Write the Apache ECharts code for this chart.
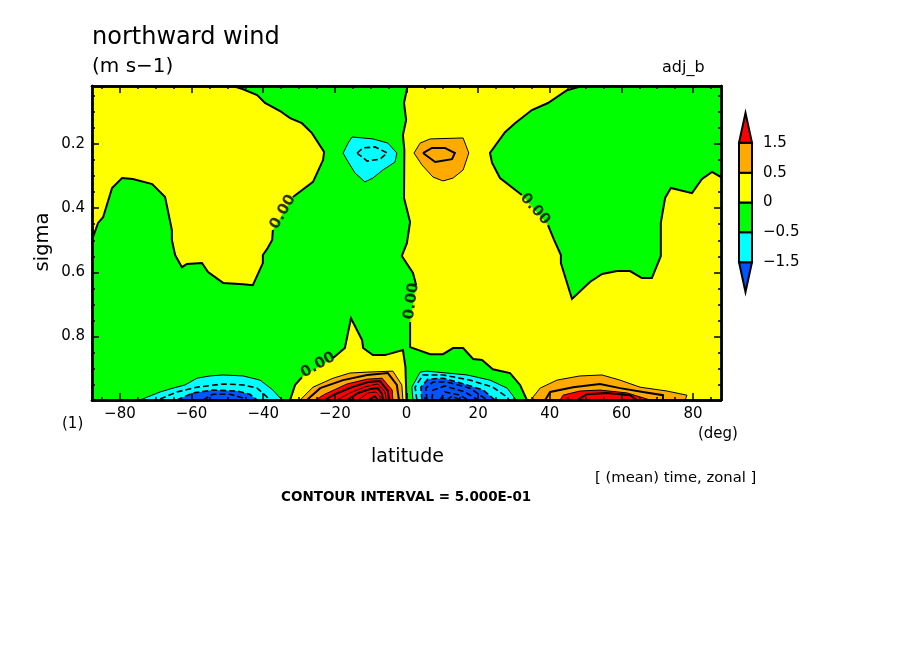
<!DOCTYPE html>
<html>
<head>
<meta charset="utf-8">
<title>northward wind</title>
<script src="https://cdn.jsdelivr.net/npm/echarts@6/dist/echarts.min.js"></script>
<style>
html,body{margin:0;padding:0;background:#fff}
#main{width:904px;height:654px}
</style>
</head>
<body>
<div id="main"></div>
<script>
// axis values
var latMin = -87.8, latMax = 87.8, sigmaMin = 0.019, sigmaMax = 0.998;
var latMajor = [-80, -60, -40, -20, 0, 20, 40, 60, 80];
var latMinor = [-85, -75, -70, -65, -55, -50, -45, -35, -30, -25, -15, -10, -5, 5, 10, 15, 25, 30, 35, 45, 50, 55, 65, 70, 75, 85];
var sigmaMajor = [0.2, 0.4, 0.6, 0.8];
var sigmaMinor = [0.05, 0.1, 0.15, 0.25, 0.3, 0.35, 0.45, 0.5, 0.55, 0.65, 0.7, 0.75, 0.85, 0.9, 0.95];

// colour bar
var barLevels = ['-1.5', '-0.5', '0', '0.5', '1.5'];
var barColors = ['#0055ff', '#00ffff', '#00ff00', '#ffff00', '#ffaa00', '#ff0000'];

// zero contour pieces, [latitude, sigma]
var zeroWestTop = [[-48.4,0.019],[-45.6,0.029],[-41.7,0.047],[-39.5,0.072],[-35.3,0.097],[-32.5,0.119],[-29.2,0.135],[-26.4,0.166],[-23.0,0.225],[-23.3,0.250],[-26.1,0.318],[-31.7,0.365]];
var zeroWestLow = [[-37.3,0.468],[-37.5,0.499],[-38.9,0.527],[-40.1,0.546],[-40.1,0.571],[-42.9,0.640],[-45.6,0.637],[-51.2,0.633],[-55.4,0.599],[-57.1,0.571],[-61.3,0.574],[-62.7,0.584],[-64.6,0.546],[-65.5,0.499],[-65.5,0.468],[-67.4,0.365],[-71.0,0.325],[-76.4,0.309],[-79.4,0.306],[-82.2,0.337],[-84.7,0.428],[-86.1,0.446],[-87.8,0.499]];
var zeroEquatorTop = [[0.3,0.019],[-0.7,0.072],[-0.1,0.125],[-1.0,0.172],[-0.6,0.219],[-0.7,0.368],[1.0,0.443],[0.1,0.509],[-1.3,0.549],[1.8,0.602],[2.7,0.640]];
var zeroEquatorLow = [[1.0,0.755],[1.0,0.833],[6.6,0.855],[10.2,0.855],[13.0,0.836],[15.8,0.836],[18.6,0.870],[21.1,0.873],[24.1,0.902],[28.9,0.914],[31.7,0.951],[33.6,0.998]];
var zeroEastTop = [[49.0,0.019],[44.8,0.032],[39.5,0.072],[35.0,0.094],[30.3,0.135],[27.5,0.163],[23.3,0.228],[23.9,0.259],[26.1,0.306],[32.2,0.359]];
var zeroEastLow = [[39.5,0.453],[41.2,0.499],[43.1,0.546],[43.1,0.571],[46.2,0.683],[51.2,0.630],[54.6,0.605],[58.8,0.596],[62.4,0.596],[65.7,0.618],[68.5,0.618],[71.0,0.549],[71.0,0.446],[72.2,0.368],[73.8,0.337],[79.7,0.353],[82.5,0.309],[85.3,0.287],[87.8,0.303]];
var zeroLobeWest = [[-32.5,0.998],[-31.1,0.951],[-29.2,0.927]];
var zeroLobeEast = [[-20.5,0.867],[-17.2,0.836],[-15.5,0.743],[-12.4,0.811],[-12.1,0.836],[-9.4,0.858],[-6.0,0.858],[-1.0,0.842],[-0.3,0.895],[0,0.998]];

// upper troposphere cells
var upperNeg05 = [[-15.2,0.178],[-9.4,0.184],[-5.2,0.197],[-2.7,0.228],[-3.2,0.256],[-6.6,0.281],[-9.4,0.306],[-11.6,0.318],[-14.4,0.290],[-16.6,0.250],[-17.7,0.228],[-16.3,0.197],[-15.2,0.178]];
var upperNeg1 = [[-13.8,0.228],[-12.1,0.212],[-8.8,0.209],[-5.4,0.228],[-7.4,0.247],[-11.0,0.253],[-13.8,0.228]];
var upperPos05 = [[3.8,0.197],[6.6,0.184],[15.8,0.181],[17.4,0.228],[15.8,0.281],[13.0,0.306],[10.2,0.315],[7.4,0.303],[4.3,0.265],[2.1,0.228],[3.8,0.197]];
var upperPos1 = [[4.6,0.228],[7.1,0.212],[10.7,0.212],[13.5,0.228],[12.7,0.247],[8.0,0.256],[4.6,0.228]];

// low level cell, 50S
var southNeg05 = [[-74.4,0.998],[-68.8,0.973],[-65.2,0.961],[-61.8,0.951],[-58.5,0.930],[-54.9,0.923],[-51.2,0.920],[-45.6,0.923],[-40.9,0.936],[-37.3,0.967],[-34.8,0.998]];
var southNeg1 = [[-68.8,0.995],[-64.1,0.973],[-58.5,0.958],[-51.2,0.948],[-45.6,0.951],[-41.7,0.961],[-38.9,0.989],[-38.6,0.998]];
var southNeg15 = [[-64.1,0.998],[-59.6,0.976],[-54.0,0.967],[-47.3,0.970],[-43.7,0.980],[-41.7,0.998]];
var southNeg2 = [[-56.8,0.998],[-54.0,0.980],[-49.2,0.980],[-45.6,0.992]];

// low level cell, 10S
var tropicSPos05 = [[-29.7,0.998],[-26.1,0.958],[-20.5,0.930],[-15.8,0.914],[-11.0,0.911],[-3.8,0.908],[-1.3,0.951],[-1.0,0.998]];
var tropicSPos1 = [[-27.8,0.998],[-24.1,0.961],[-17.7,0.936],[-11.0,0.920],[-5.2,0.914],[-2.7,0.951],[-2.1,0.998]];
var tropicSPos15 = [[-25.5,0.998],[-22.8,0.980],[-16.6,0.948],[-11.0,0.933],[-6.8,0.930],[-4.0,0.967],[-3.8,0.998]];
var tropicSPos2 = [[-22.8,0.998],[-20.0,0.980],[-15.2,0.958],[-10.7,0.942],[-7.4,0.939],[-5.2,0.970],[-4.9,0.998]];
var tropicSPos25 = [[-19.4,0.998],[-15.8,0.976],[-11.6,0.957],[-8.0,0.948],[-6.0,0.973],[-5.7,0.998]];
var tropicSPos3 = [[-16.6,0.998],[-13.5,0.976],[-10.2,0.964],[-8.0,0.961],[-6.8,0.980],[-6.6,0.998]];
var tropicSPos35 = [[-13.5,0.998],[-10.7,0.976],[-8.5,0.973],[-7.4,0.986],[-7.4,0.998]];
var tropicSPos4 = [[-10.7,0.998],[-8.8,0.986],[-8.0,0.998]];

// low level cell, 10N
var tropicNNeg05 = [[1.8,0.998],[1.5,0.958],[3.8,0.911],[5.7,0.908],[16.9,0.920],[23.3,0.936],[28.1,0.961],[30.6,0.998]];
var tropicNNeg1 = [[2.9,0.998],[2.4,0.958],[4.6,0.920],[10.2,0.920],[17.7,0.936],[24.1,0.958],[28.1,0.989],[28.6,0.998]];
var tropicNNeg15 = [[4.3,0.998],[4.0,0.958],[6.0,0.933],[10.2,0.930],[16.9,0.951],[21.4,0.967],[24.7,0.998]];
var tropicNNeg2 = [[5.7,0.998],[5.4,0.961],[7.4,0.942],[11.3,0.942],[17.7,0.961],[22.5,0.998]];
var tropicNNeg25 = [[7.1,0.998],[7.4,0.967],[10.7,0.954],[16.3,0.973],[20.0,0.998]];
var tropicNNeg3 = [[9.4,0.998],[10.7,0.973],[14.9,0.983],[17.2,0.998]];
var tropicNNeg35 = [[11.3,0.998],[12.7,0.986],[14.9,0.998]];

// low level cell, 55N
var northPos05 = [[35.3,0.998],[35.3,0.989],[37.3,0.961],[42.0,0.936],[48.4,0.923],[54.6,0.920],[59.6,0.936],[65.2,0.958],[72.7,0.970],[78.3,0.983],[77.8,0.998]];
var northPos1 = [[38.7,0.998],[40.1,0.973],[46.5,0.958],[54.0,0.948],[59.6,0.961],[66.0,0.973],[71.6,0.983],[71.6,0.998]];
var northPos15 = [[42.9,0.998],[43.7,0.983],[48.4,0.970],[54.0,0.967],[61.6,0.976],[68.0,0.998]];
var northPos2 = [[47.6,0.998],[50.4,0.980],[56.0,0.976],[62.4,0.983],[64.3,0.998]];

// "0.00" contour labels
var zeroLabelPoints = [[-34.5,0.412],[35.9,0.403],[1.4,0.690],[-24.7,0.889]];
var zeroLabelAngles = [60, -48, 82, 30];

var GREEN = '#00ff00', YELLOW = '#ffff00', ORANGE = '#ffaa00', RED = '#ff0000', CYAN = '#00ffff', BLUE = '#0055ff';

var fills = [
    {pts: [[latMin, sigmaMin]].concat(zeroWestTop, zeroWestLow), color: YELLOW},
    {pts: zeroEquatorTop.concat(zeroEquatorLow, [[latMax, sigmaMax]], zeroEastLow.slice().reverse(), zeroEastTop.slice().reverse()), color: YELLOW},
    {pts: zeroLobeWest.concat(zeroLobeEast), color: YELLOW},
    {pts: upperNeg05, color: CYAN},
    {pts: upperPos05, color: ORANGE},
    {pts: southNeg05, color: CYAN},
    {pts: southNeg15, color: BLUE},
    {pts: tropicSPos05, color: ORANGE},
    {pts: tropicSPos15, color: RED},
    {pts: tropicNNeg05, color: CYAN},
    {pts: tropicNNeg15, color: BLUE},
    {pts: northPos05, color: ORANGE},
    {pts: northPos15, color: RED}
];

var solidThin = {width: 1};
var solidThick = {width: 2};
var dashed = {width: 1.6, dash: [6, 3]};

var contours = [
    [zeroWestTop, solidThick], [zeroWestLow, solidThick],
    [zeroEquatorTop, solidThick], [zeroEquatorLow, solidThick],
    [zeroEastTop, solidThick], [zeroEastLow, solidThick],
    [zeroLobeWest, solidThick], [zeroLobeEast, solidThick],
    [upperNeg05, solidThin], [upperNeg1, dashed],
    [upperPos05, solidThin], [upperPos1, solidThick],
    [southNeg05, solidThin], [southNeg1, dashed], [southNeg15, dashed], [southNeg2, dashed],
    [tropicSPos05, solidThin], [tropicSPos1, solidThick], [tropicSPos15, solidThin],
    [tropicSPos2, solidThick], [tropicSPos25, solidThin], [tropicSPos3, solidThick], [tropicSPos35, solidThin], [tropicSPos4, solidThick],
    [tropicNNeg05, solidThin], [tropicNNeg1, dashed], [tropicNNeg15, dashed],
    [tropicNNeg2, dashed], [tropicNNeg25, dashed], [tropicNNeg3, dashed], [tropicNNeg35, dashed],
    [northPos05, solidThin], [northPos1, solidThick], [northPos15, solidThin], [northPos2, solidThick]
];

var FONT = '"DejaVu Sans", sans-serif';

function minus(v) {
    return String(v).replace('-', '\u2212');
}

// one axis of the frame, ticks drawn inside. values = where the ticks go
function frameAxis(position, min, max, values, len, labelPadding, inverse) {
    var axis = {
        type: 'value', position: position, min: min, max: max, inverse: !!inverse, z: 10,
        splitLine: {show: false},
        axisLine: {show: true, onZero: false, lineStyle: {color: '#000', width: 2.5}},
        axisTick: {show: true, inside: true, length: len, customValues: values, lineStyle: {color: '#000', width: 1.5}},
        axisLabel: {show: false}
    };
    if (labelPadding) {
        axis.axisLabel = {
            show: true, customValues: values, color: '#000', fontFamily: FONT, fontSize: 15,
            margin: 7, padding: labelPadding, formatter: function (v) { return minus(Math.round(v * 10) / 10); }
        };
    }
    return axis;
}

var myChart = echarts.init(document.getElementById('main'));

myChart.setOption({
    backgroundColor: '#fff',
    animation: false,
    grid: [
        {left: 92, top: 86, width: 629, height: 314, backgroundColor: GREEN, show: true, borderWidth: 0},
        {left: 739, top: 113, width: 13, height: 179}
    ],
    xAxis: [
        frameAxis('bottom', latMin, latMax, latMajor, 7, [0, 0, 0, 0]),
        frameAxis('bottom', latMin, latMax, latMinor, 3),
        frameAxis('top', latMin, latMax, latMajor, 7),
        frameAxis('top', latMin, latMax, latMinor, 3),
        {gridIndex: 1, type: 'value', min: 0, max: 1, show: false}
    ],
    yAxis: [
        frameAxis('left', sigmaMin, sigmaMax, sigmaMajor, 7, [2, 0, 0, 0], true),
        frameAxis('left', sigmaMin, sigmaMax, sigmaMinor, 3, null, true),
        frameAxis('right', sigmaMin, sigmaMax, sigmaMajor, 7, null, true),
        frameAxis('right', sigmaMin, sigmaMax, sigmaMinor, 3, null, true),
        {
            gridIndex: 1, type: 'value', position: 'right', min: -1, max: 5,
            splitLine: {show: false}, axisLine: {show: false}, axisTick: {show: false},
            axisLabel: {
                show: true, customValues: [0, 1, 2, 3, 4], color: '#000', fontFamily: FONT, fontSize: 15, margin: 11,
                padding: [3, 0, 0, 0],
                formatter: function (v) { return minus(barLevels[v]); }
            }
        }
    ],
    graphic: [
        {type: 'text', x: 92, y: 38, style: {text: 'northward wind', font: '24px ' + FONT, fill: '#000', textVerticalAlign: 'middle'}},
        {type: 'text', x: 92, y: 67, style: {text: '(m s\u22121)', font: '20px ' + FONT, fill: '#000', textVerticalAlign: 'middle'}},
        {type: 'text', x: 662, y: 68, style: {text: 'adj_b', font: '16px ' + FONT, fill: '#000', textVerticalAlign: 'middle'}},
        {type: 'text', x: 62, y: 424, style: {text: '(1)', font: '15px ' + FONT, fill: '#000', textVerticalAlign: 'middle'}},
        {type: 'text', x: 698, y: 434, style: {text: '(deg)', font: '15px ' + FONT, fill: '#000', textVerticalAlign: 'middle'}},
        {type: 'text', x: 371, y: 457, style: {text: 'latitude', font: '19px ' + FONT, fill: '#000', textVerticalAlign: 'middle'}},
        {type: 'text', x: 43, y: 242, rotation: Math.PI / 2, style: {text: 'sigma', font: '19.5px ' + FONT, fill: '#000', textAlign: 'center', textVerticalAlign: 'middle'}},
        {type: 'text', x: 595, y: 478, style: {text: '[ (mean) time, zonal ]', font: '14.8px ' + FONT, fill: '#000', textVerticalAlign: 'middle'}},
        {type: 'text', x: 281, y: 497, style: {text: 'CONTOUR INTERVAL = 5.000E-01', font: 'bold 13.5px ' + FONT, fill: '#000', textVerticalAlign: 'middle'}}
    ],
    series: [
        {
            name: 'shading', type: 'custom', coordinateSystem: 'cartesian2d', xAxisIndex: 0, yAxisIndex: 0, z: 2,
            data: fills.map(function (f, i) { return [i]; }),
            renderItem: function (params, api) {
                var f = fills[params.dataIndex];
                return {type: 'polygon', shape: {points: f.pts.map(function (p) { return api.coord(p); })}, style: {fill: f.color}};
            }
        },
        {
            name: 'contours', type: 'custom', coordinateSystem: 'cartesian2d', xAxisIndex: 0, yAxisIndex: 0, z: 3,
            data: contours.map(function (c, i) { return [i]; }),
            renderItem: function (params, api) {
                var c = contours[params.dataIndex];
                return {
                    type: 'polyline',
                    shape: {points: c[0].map(function (p) { return api.coord(p); })},
                    style: {fill: 'none', stroke: '#000', lineWidth: c[1].width, lineDash: c[1].dash || null}
                };
            }
        },
        {
            name: 'zero labels', type: 'scatter', xAxisIndex: 0, yAxisIndex: 0, z: 4, symbolSize: 1,
            itemStyle: {color: 'rgba(0,0,0,0)'},
            data: zeroLabelPoints.map(function (p, i) {
                return {
                    value: p,
                    label: {show: true, position: 'inside', formatter: '0.00', rotate: zeroLabelAngles[i], color: '#000', fontFamily: FONT, fontSize: 15, fontWeight: 'bold'}
                };
            })
        },
        {
            name: 'colour bar', type: 'custom', coordinateSystem: 'cartesian2d', xAxisIndex: 4, yAxisIndex: 4, z: 2,
            data: barColors.map(function (c, i) { return [i]; }),
            renderItem: function (params, api) {
                var i = params.dataIndex, pts;
                if (i === 0) {
                    pts = [[0, 0], [1, 0], [0.5, -1]];
                } else if (i === barColors.length - 1) {
                    pts = [[0, i - 1], [1, i - 1], [0.5, i]];
                } else {
                    pts = [[0, i - 1], [1, i - 1], [1, i], [0, i]];
                }
                return {
                    type: 'polygon',
                    shape: {points: pts.map(function (p) { return api.coord(p); })},
                    style: {fill: barColors[i], stroke: '#000', lineWidth: 2}
                };
            }
        }
    ]
});
</script>
</body>
</html>
